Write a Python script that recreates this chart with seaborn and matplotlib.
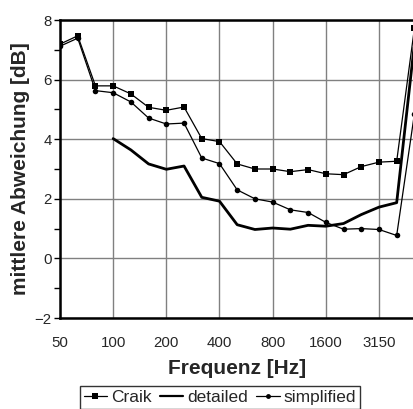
import numpy as np
import pandas as pd
import matplotlib
matplotlib.use("Agg")
import matplotlib.pyplot as plt
import seaborn as sns
from matplotlib.ticker import MultipleLocator
from matplotlib.lines import Line2D

sns.set_theme(style="white")
plt.rcParams['font.family'] = ['Liberation Sans', 'DejaVu Sans']

bands = ["50", "63", "80", "100", "125", "160", "200", "250", "315", "400", "500",
         "630", "800", "1000", "1250", "1600", "2000", "2500", "3150", "4000", "5000"]
craik = [7.19, 7.47, 5.79, 5.79, 5.52, 5.07, 4.97, 5.08, 4.02, 3.92, 3.17,
         3.00, 3.00, 2.91, 2.98, 2.84, 2.81, 3.08, 3.23, 3.26, 7.72]
detailed = [np.nan, np.nan, np.nan, 4.02, 3.64, 3.17, 2.99, 3.10, 2.05, 1.92, 1.13,
            0.97, 1.02, 0.98, 1.11, 1.08, 1.17, 1.47, 1.72, 1.87, 7.20]
simplified = [7.12, 7.39, 5.63, 5.56, 5.25, 4.71, 4.51, 4.54, 3.37, 3.18, 2.30,
              2.00, 1.89, 1.63, 1.54, 1.21, 0.98, 1.00, 0.97, 0.77, 4.85]
tick_labels = ["50", "100", "200", "400", "800", "1600", "3150"]

pos = np.arange(len(bands))
df = pd.DataFrame({"pos": pos, "Craik": craik, "detailed": detailed, "simplified": simplified})

W, H = 413, 409
fig = plt.figure(figsize=(W / 100, H / 100), dpi=100)
x0, x1 = 60, 414.4
y_top, y_bot = 20, 318
ax = fig.add_axes([x0 / W, 1 - y_bot / H, (x1 - x0) / W, (y_bot - y_top) / H])

sns.lineplot(data=df, x="pos", y="Craik", ax=ax, color="black", lw=0.9,
             marker="s", markersize=4.8, markeredgewidth=0, zorder=4)
sns.lineplot(data=df, x="pos", y="detailed", ax=ax, color="black", lw=2.0, zorder=3)
sns.lineplot(data=df, x="pos", y="simplified", ax=ax, color="black", lw=0.9,
             marker="o", markersize=4, markeredgewidth=0, zorder=4)

ax.set_xlim(0, 20)
ax.set_ylim(-2, 8)
ax.set_xticks(np.arange(0, 19, 3))
ax.set_xticklabels(tick_labels, fontsize=10.8)
ax.yaxis.set_major_locator(MultipleLocator(2))
ax.yaxis.set_minor_locator(MultipleLocator(1))
ax.tick_params(axis='y', which='both', direction='out', length=4, width=1, left=True,
               labelsize=10.8, pad=2, color='black')
ax.tick_params(axis='x', which='both', length=0, pad=13)
ax.grid(True, which='major', color='#808080', lw=1)
ax.set_axisbelow(True)
for s in ['left', 'bottom', 'top']:
    ax.spines[s].set_visible(True)
    ax.spines[s].set_color('black')
    ax.spines[s].set_linewidth(1.8)
ax.spines['right'].set_visible(False)

ax.set_xlabel("Frequenz [Hz]", fontsize=15, fontweight='bold', labelpad=6.5)
ax.set_ylabel("mittlere Abweichung [dB]", fontsize=15, fontweight='bold', labelpad=3)

handles = [
    Line2D([], [], color='black', lw=0.9, marker='s', markersize=4, markeredgewidth=0),
    Line2D([], [], color='black', lw=1.6),
    Line2D([], [], color='black', lw=0.9, marker='o', markersize=3.5, markeredgewidth=0),
]
leg = fig.legend(handles, ["Craik", "detailed", "simplified"], loc='center',
                 bbox_to_anchor=(220 / W, 1 - 397.5 / H), ncol=3, frameon=True,
                 fontsize=12.5, handlelength=1.35, handletextpad=0.25, columnspacing=0.45,
                 borderpad=0.2, fancybox=False, borderaxespad=0)
leg.get_frame().set_edgecolor('black')
leg.get_frame().set_linewidth(1)

fig.savefig("out.png", dpi=100)
